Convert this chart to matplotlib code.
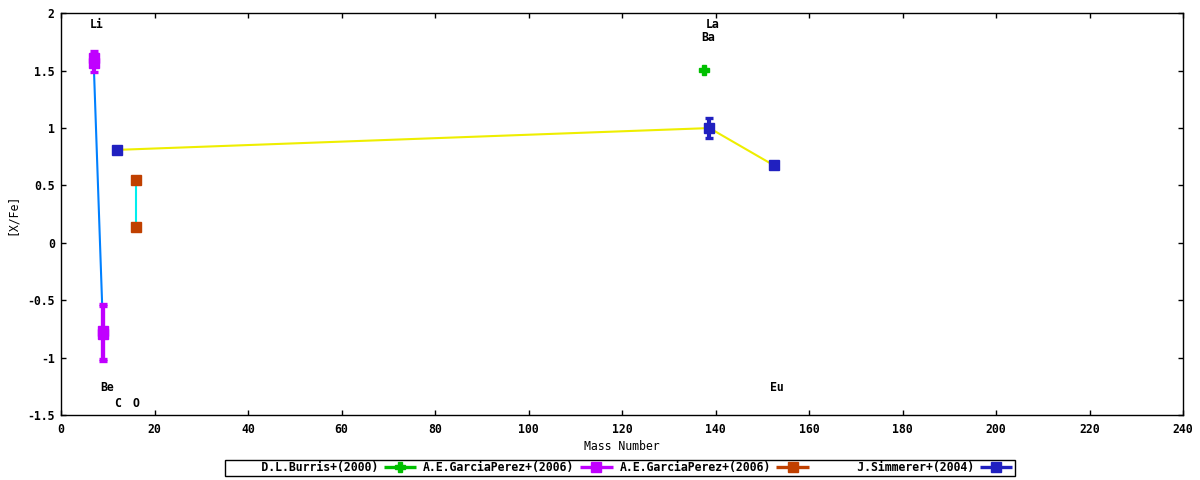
import matplotlib
matplotlib.use('Agg')
import matplotlib.pyplot as plt
from matplotlib.ticker import MultipleLocator, FuncFormatter
from matplotlib.container import ErrorbarContainer
from matplotlib.legend_handler import HandlerErrorbar

plt.rcParams['font.family'] = ['DejaVu Sans Mono']
plt.rcParams['font.weight'] = 'bold'
plt.rcParams['font.size'] = 8.3
plt.rcParams['axes.unicode_minus'] = False

# abundance data, [X/Fe] vs mass number
burris_mass = [137.5]
burris_xfe = [1.51]
burris_err = [0.0]

garcia_mass = [7.0, 7.0, 9.0, 9.0]
garcia_xfe = [1.61, 1.565, -0.77, -0.79]
garcia_err = [0.06, 0.08, 0.24, 0.24]

garcia2_mass = [16.0, 16.0]
garcia2_xfe = [0.545, 0.135]
garcia2_err = [0.0, 0.0]

simmerer_mass = [12.0, 138.7, 152.5]
simmerer_xfe = [0.81, 1.0, 0.675]
simmerer_err = [0.0, 0.085, 0.02]

elements = ['Li', 'Be', 'C', 'O', 'Ba', 'La', 'Eu']
element_x = [7.7, 9.9, 12.0, 16.0, 138.4, 139.3, 153.2]
element_y = [1.9, -1.26, -1.4, -1.4, 1.79, 1.9, -1.26]

labels = ['D.L.Burris+(2000)', 'A.E.GarciaPerez+(2006)',
          'A.E.GarciaPerez+(2006)', 'J.Simmerer+(2004)']
label_w = [22, 22, 22, 23]

fig = plt.figure(figsize=(12, 4.8), dpi=100)
ax = fig.add_axes([61/1200, 1-415/480, (1183-61)/1200, (415-13.3)/480])

# connecting lines (gnuplot default colours)
ax.plot(garcia_mass, garcia_xfe, color='#0080ff', lw=1.5, zorder=1)
ax.plot(garcia2_mass, garcia2_xfe, color='#00eeee', lw=1.5, zorder=1)
ax.plot(simmerer_mass, simmerer_xfe, color='#eeee00', lw=1.5, zorder=1)

eb = dict(linestyle='none', elinewidth=3, capsize=2.8, capthick=2.4, zorder=3)
ax.errorbar(burris_mass, burris_xfe, yerr=burris_err, fmt='P', color='#00c000', ms=7.5, **eb)
ax.errorbar(garcia_mass, garcia_xfe, yerr=garcia_err, fmt='s', color='#c000ff', ms=6.5, **eb)
ax.errorbar(garcia2_mass, garcia2_xfe, yerr=garcia2_err, fmt='s', color='#c04000', ms=7, **eb)
ax.errorbar(simmerer_mass, simmerer_xfe, yerr=simmerer_err, fmt='s', color='#2020c0', ms=7, **eb)

for name, x, y in zip(elements, element_x, element_y):
    ax.text(x, y, name, ha='center', va='center')

ax.set_xlim(0, 240)
ax.set_ylim(-1.5, 2)
ax.xaxis.set_major_locator(MultipleLocator(20))
ax.yaxis.set_major_locator(MultipleLocator(0.5))
ax.yaxis.set_major_formatter(FuncFormatter(lambda v, p: '%g' % v))
ax.xaxis.set_major_formatter(FuncFormatter(lambda v, p: '%g' % v))
ax.tick_params(direction='in', length=3.6, width=1, top=True, right=True)
ax.tick_params(axis='x', pad=6)
ax.tick_params(axis='y', pad=4.5)
for s in ax.spines.values():
    s.set_linewidth(1)
ax.set_xlabel('Mass Number', labelpad=2.5)
ax.set_ylabel('[X/Fe]', labelpad=6)

# legend samples
colors = ['#00c000', '#c000ff', '#c04000', '#2020c0']
markers = ['P', 's', 's', 's']
handles = []
for c, m in zip(colors, markers):
    h = ax.errorbar([], [], xerr=[], fmt=m, color=c, ms=6.5, elinewidth=2.4,
                    capsize=3, capthick=2.4)
    handles.append(h)
leg = fig.legend(handles, [l.rjust(w) for l, w in zip(labels, label_w)],
                 loc='center', bbox_to_anchor=(620/1200, 1-468/480), ncol=4,
                 markerfirst=False, fancybox=False, edgecolor='black',
                 framealpha=1, borderpad=0.15, handlelength=3,
                 handletextpad=0.4, columnspacing=0.5,
                 handler_map={ErrorbarContainer: HandlerErrorbar(xerr_size=1.4)})
leg.get_frame().set_linewidth(1)

fig.savefig('out.png', dpi=100)
